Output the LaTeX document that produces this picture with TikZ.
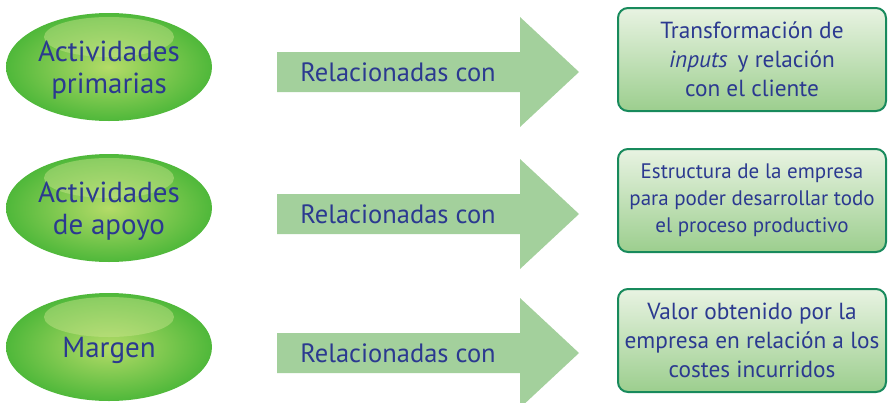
\documentclass[tikz,border=0pt]{standalone}
\usepackage{fontspec}
\setmainfont{PT Sans}
\usetikzlibrary{shapes.geometric}
\definecolor{txtblue}{HTML}{2B3990}
\definecolor{arrowgreen}{HTML}{A3D09C}
\definecolor{boxborder}{HTML}{188A5C}
\definecolor{boxtop}{HTML}{E8F3E2}
\definecolor{boxbot}{HTML}{9CCE8E}
\definecolor{ellin}{HTML}{B4DB68}
\definecolor{ellout}{HTML}{4FB83A}
\definecolor{glossc}{HTML}{CBE690}
\tikzset{
  oval/.style={ellipse, minimum width=206pt, minimum height=108pt, inner sep=0pt,
    inner color=ellin, outer color=ellout},
  gloss/.style={ellipse, minimum width=130pt, minimum height=40pt, inner sep=0pt,
    fill=glossc, fill opacity=0.45},
  ovaltext/.style={text=txtblue, align=center, inner sep=0pt,
    font=\fontsize{29}{32}\selectfont},
  infobox/.style={draw=boxborder, line width=2pt, rounded corners=10pt,
    minimum width=268pt, minimum height=103pt, inner sep=0pt,
    top color=boxtop, bottom color=boxbot, text=txtblue, align=center,
    font=\fontsize{23.3}{29}\selectfont},
  arrowlabel/.style={text=txtblue, font=\fontsize{26.5}{28}\selectfont, inner sep=0pt},
  bigarrow/.style={fill=arrowgreen, draw=none}
}
\begin{document}
\begin{tikzpicture}[x=1pt,y=-1pt]
\useasboundingbox (0,0) rectangle (888,402);
% ellipses
\foreach \yy/\nm in {67/e1,208/e2,347/e3}{
  \node[oval] (\nm) at (109,\yy) {};
  \node[gloss] at (109,\yy-30) {};
}
\node[ovaltext] (t1) at ([yshift=-3pt]e1) {Actividades\\primarias};
\node[ovaltext] (t2) at ([yshift=-3pt]e2) {Actividades\\de apoyo};
\node[ovaltext] (t3) at ([yshift=-3pt]e3) {Margen};
% arrows
\foreach \yy/\nm in {72/a1,214/a2,353/a3}{
  \fill[bigarrow] (277,\yy-20) -- (520,\yy-20) -- (520,\yy-55) -- (579,\yy) -- (520,\yy+55) -- (520,\yy+20) -- (277,\yy+20) -- cycle;
  \node[arrowlabel] (\nm) at (398,\yy) {Relacionadas con};
}
% boxes
\node[infobox] (b1) at (752,59.5) {Transformación de\\\textit{inputs}\, y relación\\con el cliente};
\node[infobox, font=\fontsize{21}{27}\selectfont] (b2) at (752,200.5) {Estructura de la empresa\\para poder desarrollar todo\\el proceso productivo};
\node[infobox] (b3) at (752,340.5) {Valor obtenido por la\\empresa en relación a los\\costes incurridos};
\end{tikzpicture}
\end{document}
